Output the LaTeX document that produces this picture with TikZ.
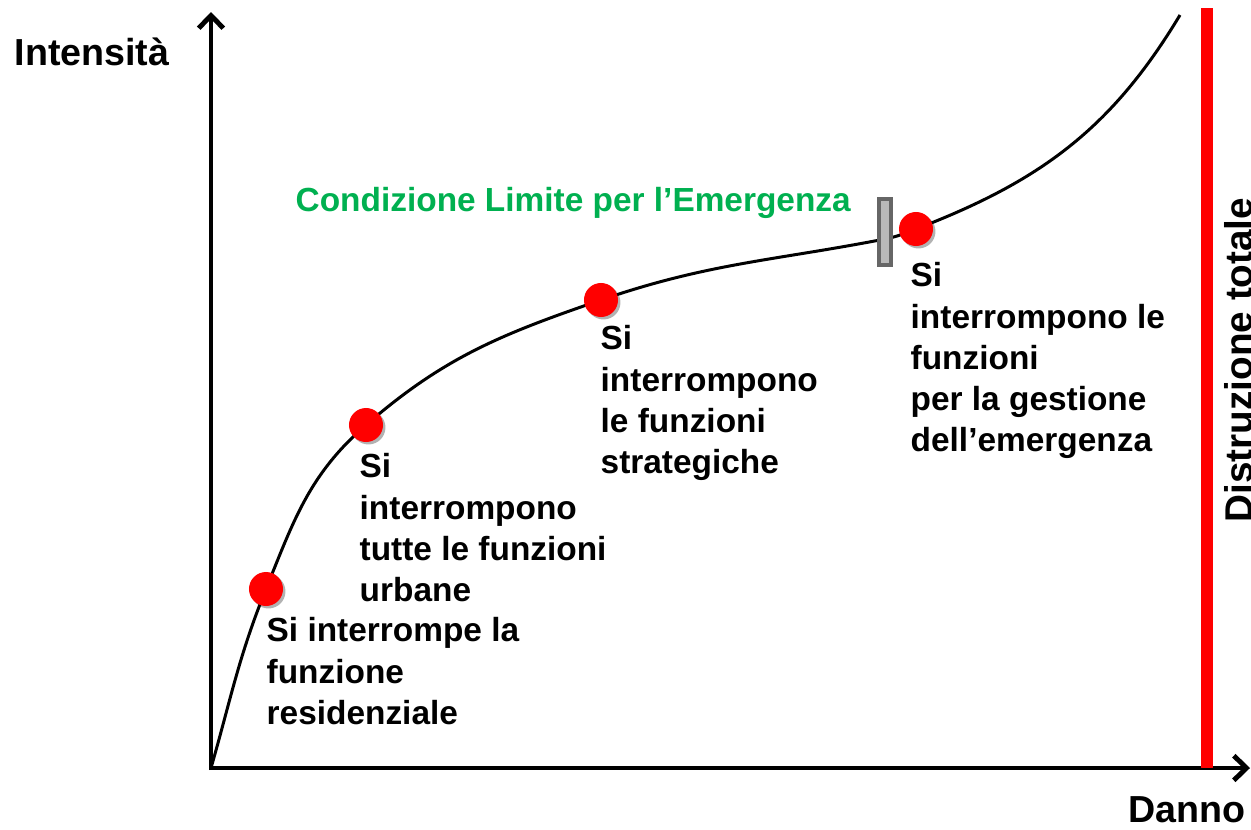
\documentclass[tikz,border=0pt]{standalone}
\usepackage{fontspec}
\setmainfont{Liberation Sans}
\usetikzlibrary{arrows.meta,shadows}

\tikzset{
  lbl/.style={font=\bfseries\fontsize{9.5}{11.7}\selectfont, align=left, inner sep=0pt, anchor=north west},
  axlbl/.style={font=\bfseries\fontsize{10.7}{13}\selectfont, inner sep=0pt},
  pt/.style={circle, fill=red, minimum size=0.34cm, inner sep=0pt,
    drop shadow={shadow xshift=0.7pt, shadow yshift=-0.7pt, opacity=0.3, fill=black}},
  axis/.style={line width=1.4pt, line join=round, -{Straight Barb[length=3.6pt,width=7pt,line width=1.4pt]}}
}

\begin{document}
\begin{tikzpicture}[x=0.01cm, y=-0.01cm]
      \useasboundingbox (0,0) rectangle (1251,830);
      % axes
      \coordinate (o) at (211,768);
      \coordinate (ytip) at (211,12);
      \coordinate (xtip) at (1250,768);
      \draw[axis] (211,770) -- (ytip);
      \draw[axis] (209,768) -- (xtip);
      \node[axlbl, anchor=east] (int) at (170,52) {Intensità};
      \node[axlbl, anchor=east] (dan) at (1246,810) {Danno};
      % total destruction
      \draw[red, line width=3.4pt] (1207,8) -- (1207,768);
      \node[axlbl, font=\bfseries\fontsize{11}{13}\selectfont, anchor=base, rotate=90] (dis) at (1252,360) {Distruzione totale};
      % curve
      \coordinate (p1) at (266,589);
      \coordinate (p2) at (366,425);
      \coordinate (p3) at (601,300);
      \coordinate (m) at (885,239);
      \coordinate (p4) at (916,229);
      \coordinate (e) at (1180,15);
      \draw[line width=0.85pt] (o) to[out=74,in=-112] (p1) to[out=68,in=-139] (p2)
        to[out=41,in=-161] (p3) to[out=19,in=-169] (m) to[out=11,in=-159] (p4)
        to[out=21,in=-121] (e);
      % limit marker
      \node[draw=gray!80!black, fill=gray!55, line width=1pt, minimum width=0.12cm, minimum height=0.66cm, inner sep=0pt] (lim) at ([yshift=0.07cm]m) {};
      \node[lbl, anchor=west, text={rgb,255:red,0;green,176;blue,80}] (cle) at (295,203) {Condizione Limite per l’Emergenza};
      % points
      \node[pt] (d1) at (p1) {};
      \node[pt] (d2) at (p2) {};
      \node[pt] (d3) at (p3) {};
      \node[pt] (d4) at (p4) {};
      \node[lbl] (t1) at (266,617) {Si interrompe la\\funzione\\residenziale};
      \node[lbl] (t2) at (359,453) {Si\\interrompono\\tutte le funzioni\\urbane};
      \node[lbl] (t3) at (600,325) {Si\\interrompono\\le funzioni\\strategiche};
      \node[lbl] (t4) at (910,262) {Si\\interrompono le\\funzioni\\per la gestione\\dell’emergenza};
\end{tikzpicture}
\end{document}
